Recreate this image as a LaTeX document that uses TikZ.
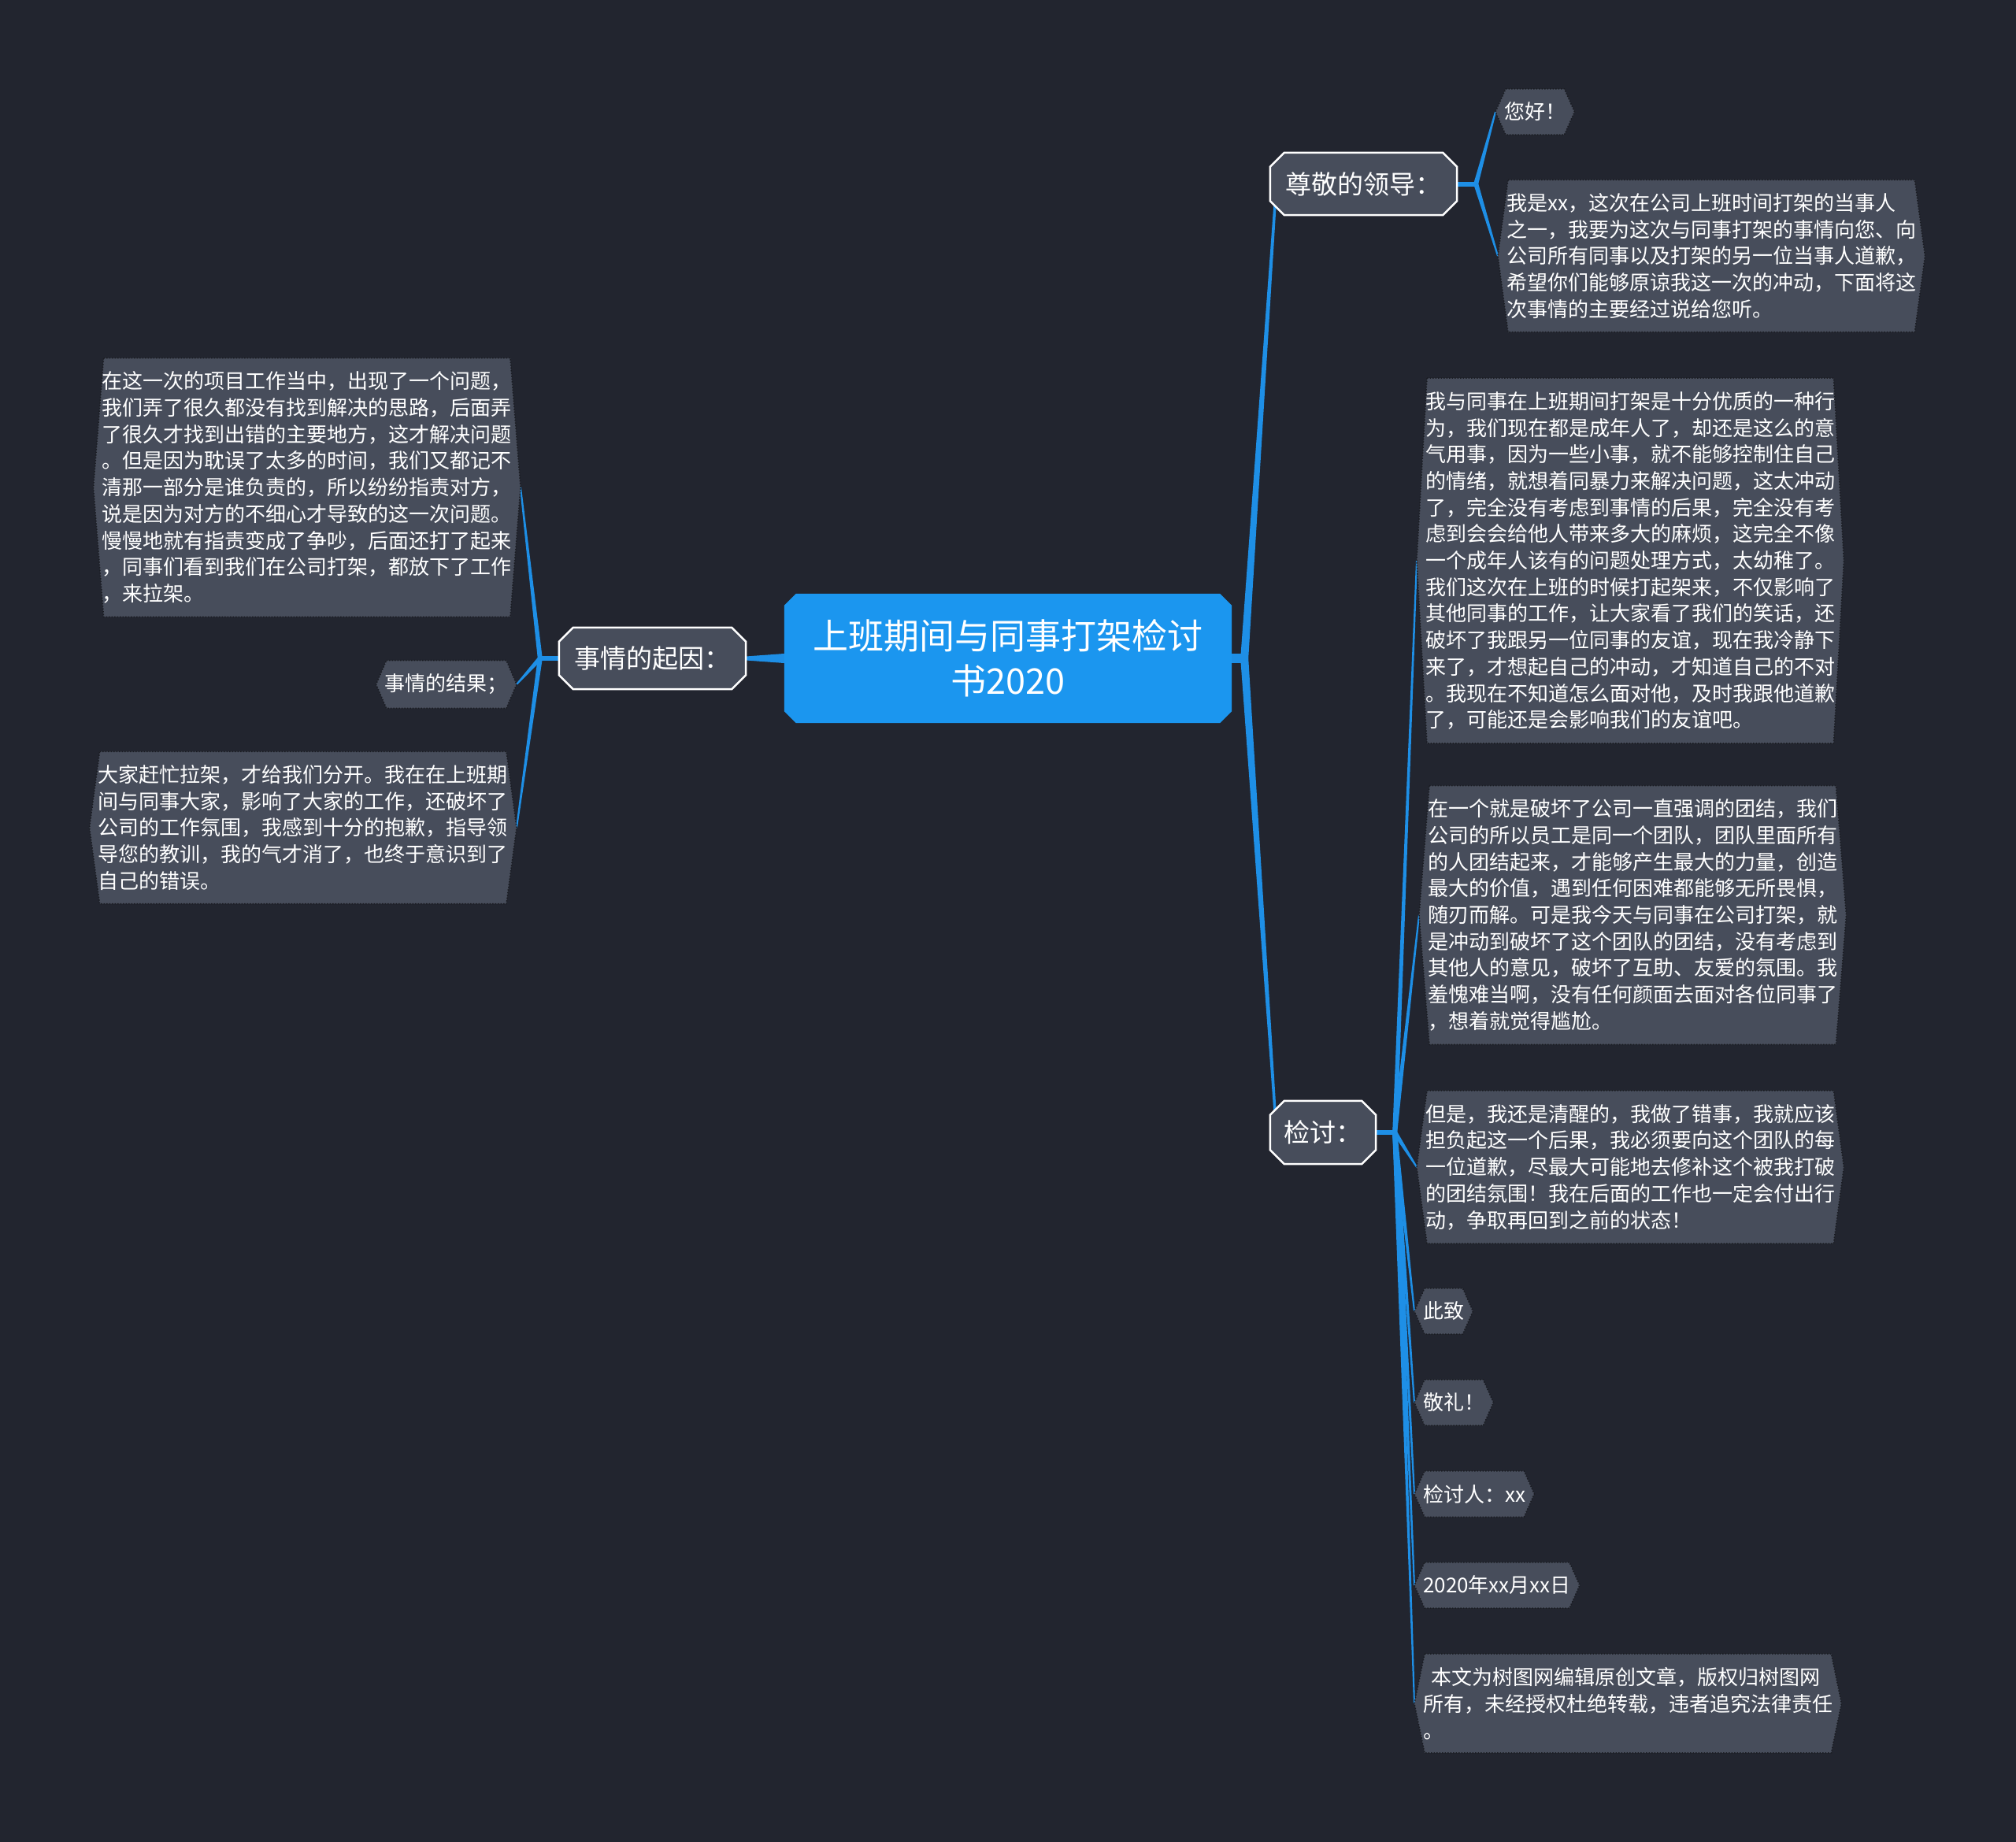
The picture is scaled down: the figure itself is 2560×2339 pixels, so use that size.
\documentclass[tikz,border=0pt]{standalone}
\usepackage{fontspec}
\newfontfamily\cjk{Noto Sans CJK SC}
\usetikzlibrary{calc}
\definecolor{bgc}{HTML}{22252F}
\definecolor{boxc}{HTML}{474D5B}
\definecolor{bluec}{HTML}{1B96EF}
\definecolor{edgec}{HTML}{1E8FE6}
\definecolor{dotc}{HTML}{1A1C22}
\pgfdeclarelayer{bg}\pgfdeclarelayer{edges}\pgfdeclarelayer{shapes}
\pgfsetlayers{bg,edges,shapes,main}
\newcommand\taperedge[4]{\fill[edgec] ($(#1)!#3!90:(#2)$) -- ($(#2)!#4!-90:(#1)$) -- ($(#2)!#4!90:(#1)$) -- ($(#1)!#3!-90:(#2)$) -- cycle;}
\newcommand\hexshape[1]{\path[leafshape] ($(#1.north west)+(13,0)$) -- ($(#1.north east)+(-13,0)$) -- (#1.east) -- ($(#1.south east)+(-13,0)$) -- ($(#1.south west)+(13,0)$) -- (#1.west) -- cycle;}
\newcommand\octshape[3]{\path[#3] ($(#1.north west)+(#2,0)$) -- ($(#1.north east)+(-#2,0)$) -- ($(#1.north east)+(0,#2)$) -- ($(#1.south east)+(0,-#2)$) -- ($(#1.south east)+(-#2,0)$) -- ($(#1.south west)+(#2,0)$) -- ($(#1.south west)+(0,-#2)$) -- ($(#1.north west)+(0,#2)$) -- cycle;}
\begin{document}
\begin{tikzpicture}[x=1pt,y=-1pt,
  leaf/.style={font=\cjk\fontsize{26pt}{33.7pt}\selectfont, text=white, align=left, inner xsep=11pt, inner ysep=17pt},
  midnode/.style={font=\cjk\fontsize{33pt}{40pt}\selectfont, text=white, inner sep=0pt},
  ctrnode/.style={font=\cjk\fontsize{45pt}{57pt}\selectfont, text=white, align=center, inner sep=0pt},
  leafshape/.style={fill=boxc, draw=dotc, dotted, line width=1.5pt},
  midshape/.style={fill=boxc, draw=white, line width=2.5pt},
  ctrshape/.style={fill=bluec}]
\begin{pgfonlayer}{bg}\fill[bgc] (0,0) rectangle (2560,2339);\end{pgfonlayer}
\useasboundingbox (0,0) rectangle (2560,2339);

% central and first-level nodes
\node[ctrnode, minimum width=568pt, minimum height=164pt] (ctr) at (1280,836) {上班期间与同事打架检讨\\书2020};
\node[midnode, minimum width=237pt, minimum height=79pt] (lead) at (1731.5,233.5) {尊敬的领导：};
\node[midnode, minimum width=134pt, minimum height=80pt] (rev) at (1680,1438) {检讨：};
\node[midnode, minimum width=237pt, minimum height=78pt] (cause) at (828.5,836) {事情的起因：};

% right leaves
\node[leaf, anchor=west] (hello) at (1899,142) {您好！};
\node[leaf, anchor=west] (intro) at (1902,325) {我是xx，这次在公司上班时间打架的当事人\\之一，我要为这次与同事打架的事情向您、向\\公司所有同事以及打架的另一位当事人道歉，\\希望你们能够原谅我这一次的冲动，下面将这\\次事情的主要经过说给您听。};
\node[leaf, anchor=west] (pa) at (1799,712) {我与同事在上班期间打架是十分优质的一种行\\为，我们现在都是成年人了，却还是这么的意\\气用事，因为一些小事，就不能够控制住自己\\的情绪，就想着同暴力来解决问题，这太冲动\\了，完全没有考虑到事情的后果，完全没有考\\虑到会会给他人带来多大的麻烦，这完全不像\\一个成年人该有的问题处理方式，太幼稚了。\\我们这次在上班的时候打起架来，不仅影响了\\其他同事的工作，让大家看了我们的笑话，还\\破坏了我跟另一位同事的友谊，现在我冷静下\\来了，才想起自己的冲动，才知道自己的不对\\。我现在不知道怎么面对他，及时我跟他道歉\\了，可能还是会影响我们的友谊吧。};
\node[leaf, anchor=west] (pb) at (1802,1162) {在一个就是破坏了公司一直强调的团结，我们\\公司的所以员工是同一个团队，团队里面所有\\的人团结起来，才能够产生最大的力量，创造\\最大的价值，遇到任何困难都能够无所畏惧，\\随刃而解。可是我今天与同事在公司打架，就\\是冲动到破坏了这个团队的团结，没有考虑到\\其他人的意见，破坏了互助、友爱的氛围。我\\羞愧难当啊，没有任何颜面去面对各位同事了\\，想着就觉得尴尬。};
\node[leaf, anchor=west] (pc) at (1799,1482) {但是，我还是清醒的，我做了错事，我就应该\\担负起这一个后果，我必须要向这个团队的每\\一位道歉，尽最大可能地去修补这个被我打破\\的团结氛围！我在后面的工作也一定会付出行\\动，争取再回到之前的状态！};
\node[leaf, anchor=west] (l1) at (1796,1665) {此致};
\node[leaf, anchor=west] (l2) at (1796,1781) {敬礼！};
\node[leaf, anchor=west] (l3) at (1796,1897) {检讨人：xx};
\node[leaf, anchor=west] (l4) at (1796,2013) {2020年xx月xx日};
\node[leaf, anchor=west] (cpy) at (1796,2163) {\hspace*{0.4em}本文为树图网编辑原创文章，版权归树图网\\所有，未经授权杜绝转载，违者追究法律责任\\。};

% left leaves
\node[leaf, anchor=east] (c1) at (661,619) {在这一次的项目工作当中，出现了一个问题，\\我们弄了很久都没有找到解决的思路，后面弄\\了很久才找到出错的主要地方，这才解决问题\\。但是因为耽误了太多的时间，我们又都记不\\清那一部分是谁负责的，所以纷纷指责对方，\\说是因为对方的不细心才导致的这一次问题。\\慢慢地就有指责变成了争吵，后面还打了起来\\，同事们看到我们在公司打架，都放下了工作\\，来拉架。};
\node[leaf, anchor=east] (res) at (656,869) {事情的结果；};
\node[leaf, anchor=east] (c2) at (656,1051) {大家赶忙拉架，才给我们分开。我在在上班期\\间与同事大家，影响了大家的工作，还破坏了\\公司的工作氛围，我感到十分的抱歉，指导领\\导您的教训，我的气才消了，也终于意识到了\\自己的错误。};

% shapes
\begin{pgfonlayer}{shapes}
\octshape{ctr}{15}{ctrshape}
\octshape{lead}{18}{midshape}
\octshape{rev}{18}{midshape}
\octshape{cause}{18}{midshape}
\hexshape{hello}\hexshape{intro}\hexshape{pa}\hexshape{pb}\hexshape{pc}
\hexshape{l1}\hexshape{l2}\hexshape{l3}\hexshape{l4}\hexshape{cpy}
\hexshape{c1}\hexshape{res}\hexshape{c2}
\end{pgfonlayer}

% connectors
\begin{pgfonlayer}{edges}
\coordinate (jR) at ($(ctr.east)+(16,0)$);
\coordinate (leadin) at ($(lead.west)+(8,0)$);
\coordinate (revin) at ($(rev.west)+(8,0)$);
\taperedge{ctr.east}{jR}{6pt}{6pt}
\taperedge{jR}{leadin}{5pt}{1.5pt}
\taperedge{jR}{revin}{5pt}{1.5pt}
\taperedge{ctr.west}{cause.east}{6pt}{2.5pt}
\coordinate (jL) at ($(cause.west)+(-24,0)$);
\taperedge{cause.west}{jL}{3pt}{3pt}
\taperedge{jL}{c1.east}{3pt}{1pt}
\taperedge{jL}{res.east}{3pt}{1pt}
\taperedge{jL}{c2.east}{3pt}{1pt}
\coordinate (jA) at ($(lead.east)+(24,0)$);
\taperedge{lead.east}{jA}{3pt}{3pt}
\taperedge{jA}{hello.west}{3pt}{1pt}
\taperedge{jA}{intro.west}{3pt}{1pt}
\coordinate (jB) at ($(rev.east)+(24,0)$);
\taperedge{rev.east}{jB}{3pt}{3pt}
\taperedge{jB}{pa.west}{3pt}{1pt}
\taperedge{jB}{pb.west}{3pt}{1pt}
\taperedge{jB}{pc.west}{3pt}{1pt}
\taperedge{jB}{l1.west}{3pt}{1pt}
\taperedge{jB}{l2.west}{3pt}{1pt}
\taperedge{jB}{l3.west}{3pt}{1pt}
\taperedge{jB}{l4.west}{3pt}{1pt}
\taperedge{jB}{cpy.west}{3pt}{1pt}
\end{pgfonlayer}
\end{tikzpicture}
\end{document}
